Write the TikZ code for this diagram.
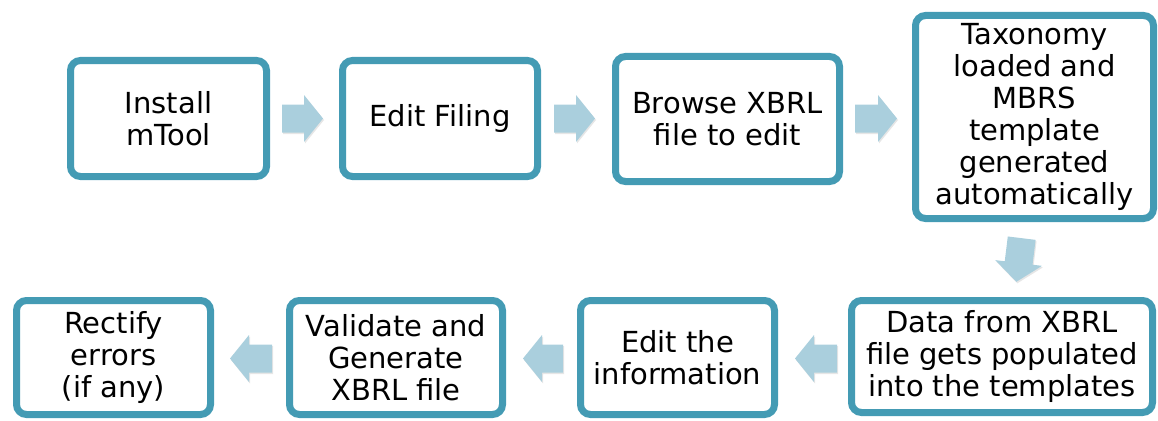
\documentclass[tikz,border=0pt]{standalone}
\usepackage{fontspec}
\setmainfont{DejaVu Sans}
\usetikzlibrary{shadows}
\definecolor{boxborder}{RGB}{68,155,180}
\definecolor{arrowfill}{RGB}{170,207,221}
\tikzset{
  stepbox/.style={draw=boxborder, line width=7pt, fill=white, rounded corners=10pt,
    inner sep=0pt, align=center, font=\fontsize{29}{32}\selectfont,
    drop shadow={opacity=0.25, shadow xshift=1.5pt, shadow yshift=-2.5pt}},
  flowarrow/.style={fill=arrowfill, draw=none,
    drop shadow={opacity=0.2, shadow xshift=1pt, shadow yshift=-1.5pt}},
}
% #1 name, #2 centre, #3 angle, #4 half length
\newcommand\flowarr[4]{%
  \coordinate (#1) at #2;
  \fill[flowarrow, shift={(#1)}, rotate=#3]
    (-#4,-14) -- (#4-19,-14) -- (#4-19,-23.5) -- (#4,0) -- (#4-19,23.5) -- (#4-19,14) -- (-#4,14) -- cycle;
}
\begin{document}
\begin{tikzpicture}[x=1pt,y=-1pt]
\useasboundingbox (0,0) rectangle (1158,420);
% top row
\node[stepbox, minimum width=196pt, minimum height=116pt] (b1) at (168.5,118.5) {Install\\mTool};
\node[stepbox, minimum width=195pt, minimum height=116pt] (b2) at (440,118.5) {Edit Filing};
\node[stepbox, minimum width=224pt, minimum height=125pt] (b3) at (727.5,119) {Browse XBRL\\file to edit};
\node[stepbox, minimum width=238pt, minimum height=203pt] (b4) at (1034.5,117) {Taxonomy\\loaded and\\MBRS\\template\\generated\\automatically};
% bottom row
\node[stepbox, minimum width=301pt, minimum height=112pt] (b5) at (1002,356.5) {Data from XBRL\\file gets populated\\into the templates};
\node[stepbox, minimum width=194pt, minimum height=114pt] (b6) at (677.5,357.5) {Edit the\\information};
\node[stepbox, minimum width=213pt, minimum height=114pt] (b7) at (396,357.5) {Validate and\\Generate\\XBRL file};
\node[stepbox, minimum width=194pt, minimum height=114pt] (b8) at (113.5,357.5) {Rectify\\errors\\(if any)};
% arrows
\flowarr{a12}{(302.5,118.5)}{0}{20.5}
\flowarr{a23}{(574.5,118.5)}{0}{20.5}
\flowarr{a34}{(876,118.5)}{0}{21}
\flowarr{a45}{(1019,260)}{-97}{22}
\flowarr{a56}{(816,358.5)}{180}{21}
\flowarr{a67}{(543,358.5)}{180}{20}
\flowarr{a78}{(251,358.5)}{180}{21}
\end{tikzpicture}
\end{document}
